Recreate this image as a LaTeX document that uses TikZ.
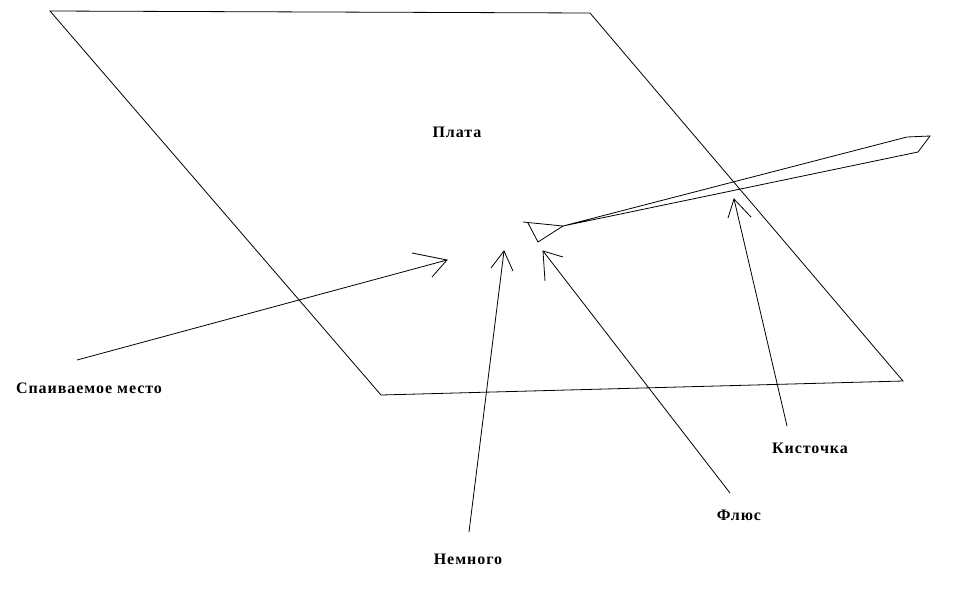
\documentclass[tikz,border=0pt]{standalone}
\usepackage{fontspec}
\setmainfont{Liberation Serif}
\newfontfamily\lblfont[LetterSpace=6]{Liberation Serif}
\begin{document}
\begin{tikzpicture}[x=1pt,y=-1pt,
  ln/.style={line width=0.8pt,black},
  lbl/.style={font=\lblfont\bfseries\fontsize{16}{18}\selectfont,inner sep=0pt}]
\useasboundingbox[fill=white] (0,0) rectangle (954,606);
% plate
\coordinate (p1) at (50,11);
\coordinate (p2) at (590,13);
\coordinate (p3) at (903,381);
\coordinate (p4) at (381,395);
\draw[ln] (p1) -- (p2) -- (p3) -- (p4) -- cycle;
% brush
\coordinate (b1) at (523,222);
\coordinate (b2) at (528,223);
\coordinate (b3) at (538,242);
\coordinate (b4) at (563,226);
\coordinate (b5) at (907,137);
\coordinate (b6) at (930,136);
\coordinate (b7) at (918,152);
\draw[ln] (b1) -- (b4);
\draw[ln] (b2) -- (b3) -- (b4);
\draw[ln] (b4) -- (b5) -- (b6) -- (b7) -- (b4);
% labels
\node[lbl] (plata) at (457,132) {Плата};
\node[lbl] (spai) at (89,388) {Спаиваемое место};
\node[lbl] (kist) at (810,448) {Кисточка};
\node[lbl] (flus) at (739,515) {Флюс};
\node[lbl] (nemn) at (468,559) {Немного};
% arrow 1
\coordinate (a1s) at (77,360);
\coordinate (a1t) at (447,260);
\coordinate (a1h1) at (412,253);
\coordinate (a1h2) at (432,277);
\draw[ln] (a1s) -- (a1t);
\draw[ln] (a1h1) -- (a1t) -- (a1h2);
% arrow 2
\coordinate (a2s) at (469,532);
\coordinate (a2t) at (504,251);
\coordinate (a2h1) at (491,268);
\coordinate (a2h2) at (513,271);
\draw[ln] (a2s) -- (a2t);
\draw[ln] (a2h1) -- (a2t) -- (a2h2);
% arrow 3
\coordinate (a3s) at (730,493);
\coordinate (a3t) at (543,251);
\coordinate (a3h1) at (563,257);
\coordinate (a3h2) at (545,281);
\draw[ln] (a3s) -- (a3t);
\draw[ln] (a3h1) -- (a3t) -- (a3h2);
% arrow 4
\coordinate (a4s) at (787,426);
\coordinate (a4t) at (734,199);
\coordinate (a4h1) at (728,218);
\coordinate (a4h2) at (751,217);
\draw[ln] (a4s) -- (a4t);
\draw[ln] (a4h1) -- (a4t) -- (a4h2);
\end{tikzpicture}
\end{document}
